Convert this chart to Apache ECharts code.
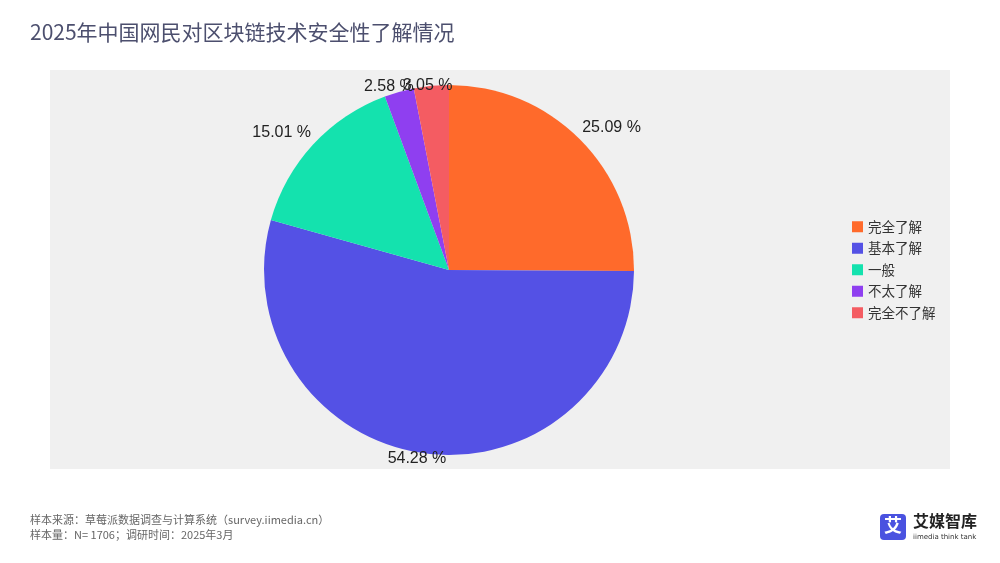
<!DOCTYPE html>
<html>
<head>
<meta charset="utf-8">
<script src="https://cdn.jsdelivr.net/npm/echarts@6/dist/echarts.min.js"></script>
<style>
html,body{margin:0;padding:0;background:#fff;}
#c{width:1000px;height:563px;}
</style>
</head>
<body>
<div id="c"></div>
<script>
var categories = ['完全了解', '基本了解', '一般', '不太了解', '完全不了解'];
var values = [25.09, 54.28, 15.01, 2.58, 3.05];
var colors = ['#FF6A2B', '#5451E5', '#14E2AE', '#8F3FF0', '#F45C62'];

var CX = 449, CY = 270, R = 185;
var total = values.reduce(function (a, b) { return a + b; }, 0);

var chart = echarts.init(document.getElementById('c'), null, {renderer: 'canvas'});
var data = categories.map(function (c, i) {
  return {name: c, value: values[i], itemStyle: {color: colors[i]}};
});

function plotlyLikeLabel(p) {
  var i = p.dataIndex, before = 0;
  for (var k = 0; k < i; k++) before += values[k];
  var mid = (before + values[i] / 2) / total * Math.PI * 2;
  var s = Math.sin(mid), c = Math.cos(mid);
  var ex = CX + R * s, ey = CY - R * c;
  var hw = p.labelRect.width / 2;
  var dx = (s >= 0 ? 1 : -1) * Math.min(Math.abs(s) / 0.7, 1) * (hw + 2);
  var dy = 4 + (c > 0 ? -c * 1 : -c * 6) - Math.abs(s) * Math.abs(c) * 30;
  return {x: ex + dx, y: ey + dy, align: 'center', verticalAlign: 'middle', hideOverlap: false};
}

chart.setOption({
  backgroundColor: '#ffffff',
  animation: false,
  title: {
    text: '2025年中国网民对区块链技术安全性了解情况',
    left: 25, top: 17,
    textStyle: {fontSize: 21, fontWeight: 'normal', color: '#4c4f6e', fontFamily: 'Noto Sans CJK SC'}
  },
  legend: {
    orient: 'vertical',
    left: 847, top: 215,
    itemWidth: 11, itemHeight: 11, itemGap: 8,
    icon: 'rect',
    textStyle: {fontSize: 13.5, color: '#333', fontFamily: 'Noto Sans CJK SC'},
    data: categories
  },
  graphic: [
    {type: 'rect', left: 50, top: 70, shape: {width: 900, height: 399}, style: {fill: '#f0f0f0'}, z: -10},
    {type: 'text', left: 30, top: 514, style: {text: '样本来源：草莓派数据调查与计算系统（survey.iimedia.cn）', fontSize: 11, fill: '#666', fontFamily: 'Noto Sans CJK SC'}},
    {type: 'text', left: 30, top: 529, style: {text: '样本量：N= 1706；调研时间：2025年3月', fontSize: 11, fill: '#666', fontFamily: 'Noto Sans CJK SC'}},
    {type: 'rect', left: 880, top: 514, shape: {width: 26, height: 26, r: 4}, style: {fill: '#4a52e0'}},
    {type: 'text', left: 884, top: 516, style: {text: '艾', fontSize: 18, fontWeight: 'bold', fill: '#fff', fontFamily: 'Noto Sans CJK SC'}},
    {type: 'text', left: 913, top: 513, style: {text: '艾媒智库', fontSize: 16, fontWeight: 'bold', fill: '#222', fontFamily: 'Noto Sans CJK SC'}},
    {type: 'text', left: 913, top: 534, style: {text: 'iimedia think tank', fontSize: 7, fill: '#333', fontFamily: 'DejaVu Sans'}}
  ],
  series: [{
    type: 'pie',
    center: [CX, CY],
    radius: [0, R],
    startAngle: 90,
    clockwise: true,
    data: data,
    label: {
      show: true,
      position: 'outside',
      formatter: function (p) { return p.value.toFixed(2) + ' %'; },
      fontSize: 16,
      color: '#222',
      fontFamily: 'Liberation Sans'
    },
    labelLine: {show: false, length: 4, length2: 0},
    labelLayout: plotlyLikeLabel,
    avoidLabelOverlap: false,
    emphasis: {disabled: true}
  }]
});
</script>
</body>
</html>
